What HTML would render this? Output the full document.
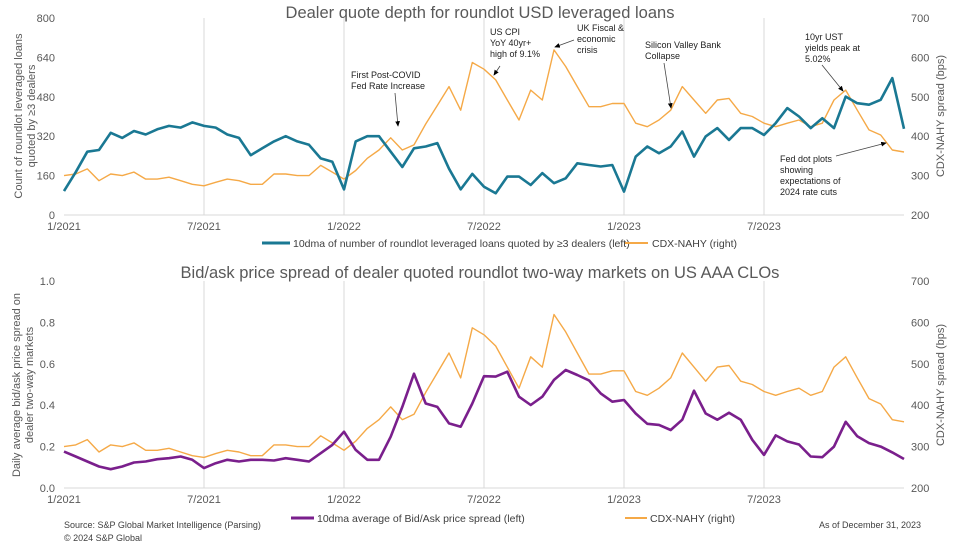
<!DOCTYPE html>
<html><head><meta charset="utf-8"><style>
body{margin:0;background:#fff;font-family:"Liberation Sans",sans-serif}
svg text{font-family:"Liberation Sans",sans-serif}
</style></head><body>
<svg id="c" width="975" height="550" viewBox="0 0 975 550">
<defs><marker id="ah" markerWidth="8" markerHeight="8" refX="6" refY="3" orient="auto"><path d="M0,0 L7,3 L0,6z" fill="#000"/></marker></defs>
<text x="480" y="18" text-anchor="middle" font-size="16.5" fill="#595959">Dealer quote depth for roundlot USD leveraged loans</text>
<text x="480" y="278" text-anchor="middle" font-size="16.5" fill="#595959">Bid/ask price spread of dealer quoted roundlot two-way markets on US AAA CLOs</text>
<text transform="translate(22,116) rotate(-90)" text-anchor="middle" font-size="11" fill="#595959"><tspan x="0" dy="0">Count of roundlot leveraged loans</tspan><tspan x="0" dy="13">quoted by ≥3 dealers</tspan></text>
<text transform="translate(944,116) rotate(-90)" text-anchor="middle" font-size="11" fill="#595959">CDX-NAHY spread (bps)</text>
<text transform="translate(20,385) rotate(-90)" text-anchor="middle" font-size="11" fill="#595959"><tspan x="0" dy="0">Daily average bid/ask price spread on</tspan><tspan x="0" dy="13">dealer two-way markets</tspan></text>
<text transform="translate(944,385) rotate(-90)" text-anchor="middle" font-size="11" fill="#595959">CDX-NAHY spread (bps)</text>
<g id="plots"></g>
<g>
<line x1="262" y1="243" x2="290" y2="243" stroke="#1A7893" stroke-width="3"/>
<text x="293" y="247" font-size="10.5" fill="#404040">10dma of number of roundlot leveraged loans quoted by ≥3 dealers (left)</text>
<line x1="625" y1="243" x2="648" y2="243" stroke="#F5A947" stroke-width="2"/>
<text x="652" y="247" font-size="10.5" fill="#404040">CDX-NAHY (right)</text>
</g>
<g>
<line x1="291" y1="518" x2="314" y2="518" stroke="#7A1F8C" stroke-width="3"/>
<text x="317" y="522" font-size="10.5" fill="#404040">10dma average of Bid/Ask price spread (left)</text>
<line x1="625" y1="518" x2="647" y2="518" stroke="#F5A947" stroke-width="2"/>
<text x="650" y="522" font-size="10.5" fill="#404040">CDX-NAHY (right)</text>
</g>
<text x="64" y="528" font-size="9" fill="#404040">Source: S&amp;P Global Market Intelligence (Parsing)</text>
<text x="64" y="541" font-size="9" fill="#404040">© 2024 S&amp;P Global</text>
<text x="921" y="528" text-anchor="end" font-size="9" fill="#404040">As of December 31, 2023</text>
<g font-size="9" fill="#222">
<text x="351" y="78"><tspan x="351">First Post-COVID</tspan><tspan x="351" dy="11">Fed Rate Increase</tspan></text>
<line x1="395" y1="93" x2="398" y2="126" stroke="#444" stroke-width="0.8" marker-end="url(#ah)"/>
<text x="490" y="35"><tspan x="490">US CPI</tspan><tspan x="490" dy="11">YoY 40yr+</tspan><tspan x="490" dy="11">high of 9.1%</tspan></text>
<line x1="500" y1="66" x2="494" y2="75" stroke="#444" stroke-width="0.8" marker-end="url(#ah)"/>
<text x="577" y="31"><tspan x="577">UK Fiscal &amp;</tspan><tspan x="577" dy="11">economic</tspan><tspan x="577" dy="11">crisis</tspan></text>
<line x1="574" y1="40" x2="555" y2="47" stroke="#444" stroke-width="0.8" marker-end="url(#ah)"/>
<text x="645" y="48"><tspan x="645">Silicon Valley Bank</tspan><tspan x="645" dy="11">Collapse</tspan></text>
<line x1="664" y1="63" x2="671" y2="108" stroke="#444" stroke-width="0.8" marker-end="url(#ah)"/>
<text x="805" y="40"><tspan x="805">10yr UST</tspan><tspan x="805" dy="11">yields peak at</tspan><tspan x="805" dy="11">5.02%</tspan></text>
<line x1="822" y1="65" x2="843" y2="91" stroke="#444" stroke-width="0.8" marker-end="url(#ah)"/>
<text x="780" y="162"><tspan x="780">Fed dot plots</tspan><tspan x="780" dy="11">showing</tspan><tspan x="780" dy="11">expectations of</tspan><tspan x="780" dy="11">2024 rate cuts</tspan></text>
<line x1="836" y1="156" x2="886" y2="143" stroke="#444" stroke-width="0.8" marker-end="url(#ah)"/>
</g>
</svg>
<script>
// semi-monthly points from 1/2021 to 12/31/2023 (index i = half-months)
const xTickLabels = ["1/2021","7/2021","1/2022","7/2022","1/2023","7/2023"];
const xTickMonths = [0,6,12,18,24,30];
const cdx = [300,304,317,287,304,300,309,291,291,296,287,278,274,283,291,287,278,278,304,304,300,300,326,309,291,313,344,365,396,365,378,431,478,526,466,587,570,543,492,441,517,492,619,577,526,475,475,483,483,433,424,441,466,526,492,458,492,496,458,450,433,424,433,441,424,433,492,517,466,416,403,365,360];
const loans = [97,174,257,264,334,313,341,327,348,362,355,376,362,355,327,313,243,271,299,320,299,285,230,216,104,299,320,320,257,195,271,278,292,188,104,167,115,88,156,156,122,170,129,149,210,203,197,203,95,237,278,251,278,339,237,319,353,305,353,353,325,373,434,400,353,393,353,481,454,448,468,556,350];
const bidask = [0.176,0.152,0.128,0.104,0.091,0.104,0.123,0.128,0.139,0.144,0.152,0.136,0.096,0.12,0.136,0.128,0.136,0.136,0.133,0.144,0.136,0.128,0.168,0.208,0.272,0.184,0.136,0.136,0.248,0.392,0.552,0.408,0.392,0.312,0.296,0.408,0.54,0.538,0.562,0.441,0.401,0.441,0.522,0.57,0.546,0.52,0.457,0.417,0.425,0.36,0.31,0.305,0.28,0.33,0.47,0.36,0.33,0.364,0.33,0.233,0.16,0.254,0.225,0.21,0.152,0.149,0.2,0.32,0.25,0.217,0.2,0.172,0.14];
const topLeftTicks = [0,160,320,480,640,800];
const rightTicks = [200,300,400,500,600,700];
const botLeftTicks = [0.0,0.2,0.4,0.6,0.8,1.0];

const NS="http://www.w3.org/2000/svg";
const g=document.getElementById('plots');
const X0=64,X1=904,NM=36;
const xs=m=>X0+(X1-X0)*m/NM;
function el(t,a,p){const e=document.createElementNS(NS,t);for(const k in a)e.setAttribute(k,a[k]);(p||g).appendChild(e);return e;}
function panel(top,bot,leftTicks,lmax,fmt,leftSeries,leftColor,leftName,pfx){
  const yl=v=>bot-(bot-top)*v/lmax;
  const yr=v=>bot-(bot-top)*(v-200)/500;
  xTickMonths.forEach((m,k)=>{
    if(k>0){const l=el('line',{x1:xs(m),x2:xs(m),y1:top,y2:bot,stroke:'#d9d9d9','stroke-width':1});
    
    }
    const t=el('text',{x:xs(m),y:bot+15,'text-anchor':'middle','font-size':11,fill:'#595959'});t.textContent=xTickLabels[k];
    
    
  });
  const ax=el('line',{x1:X0,x2:X1,y1:bot,y2:bot,stroke:'#d9d9d9','stroke-width':1});
  
  
  leftTicks.forEach(v=>{const t=el('text',{x:55,y:yl(v)+4,'text-anchor':'end','font-size':11,fill:'#595959'});t.textContent=fmt(v);
    
    });
  rightTicks.forEach(v=>{const t=el('text',{x:911,y:yr(v)+4,'font-size':11,fill:'#595959'});t.textContent=v;
    
    });
  const pc=el('path',{d:cdx.map((v,i)=>(i?'L':'M')+xs(i/2).toFixed(1)+','+yr(v).toFixed(1)).join(''),fill:'none',stroke:'#F5A947','stroke-width':1.4,'stroke-linejoin':'round'});
  
  
  const pl=el('path',{d:leftSeries.map((v,i)=>(i?'L':'M')+xs(i/2).toFixed(1)+','+yl(v).toFixed(1)).join(''),fill:'none',stroke:leftColor,'stroke-width':2.6,'stroke-linejoin':'round'});
  
  
}
panel(18,215,topLeftTicks,800,v=>v,loans,'#1A7893','loans-line','top');
panel(281,488,botLeftTicks,1.0,v=>v.toFixed(1),bidask,'#7A1F8C','bidask-line','bottom');
</script>
</body></html>
